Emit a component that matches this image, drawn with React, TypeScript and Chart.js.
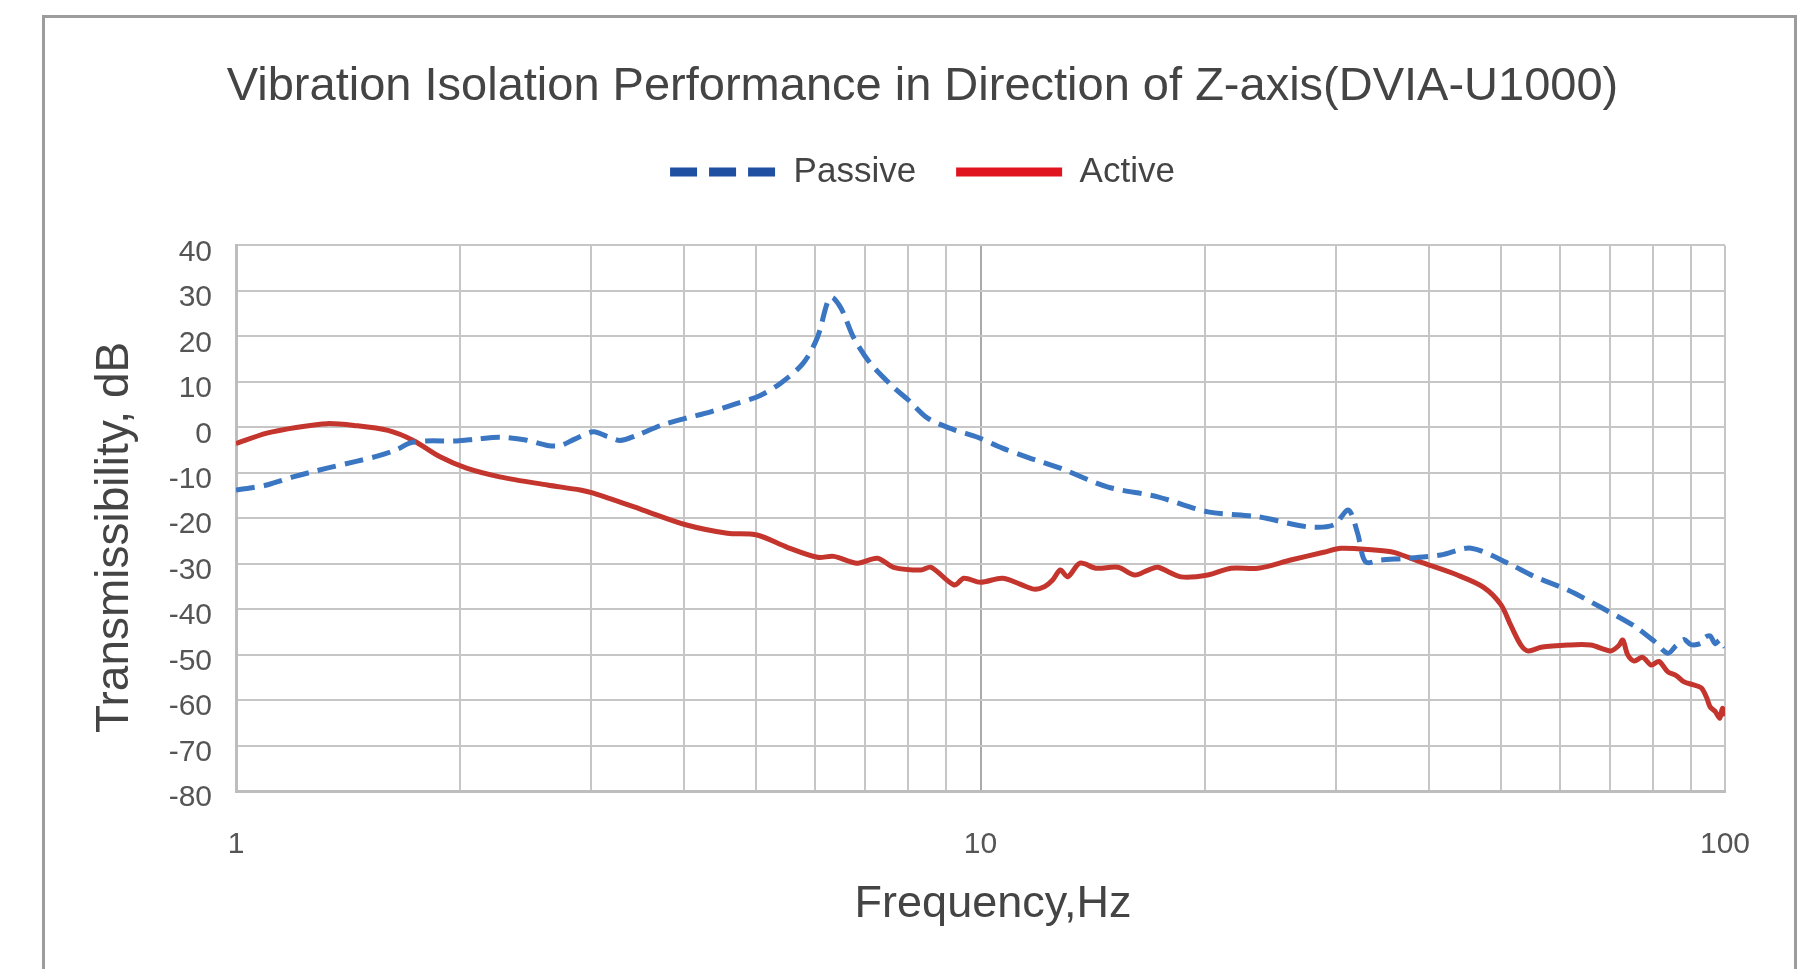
import React, { useEffect, useRef } from "react";
import { Chart, registerables } from "chart.js";

Chart.register(...registerables);

const TITLE = "Vibration Isolation Performance in Direction of Z-axis(DVIA-U1000)";
const X_TITLE = "Frequency,Hz";
const Y_TITLE = "Transmissibility, dB";
const SERIES_NAMES = ["Passive", "Active"];

const X_GRID_VALUES = [1, 2, 3, 4, 5, 6, 7, 8, 9, 10, 20, 30, 40, 50, 60, 70, 80, 90, 100];
const X_LABELED = [1, 10, 100];

const passiveFreq = [
  1.0, 1.05, 1.1, 1.2, 1.325, 1.45, 1.56, 1.65, 1.71, 1.8, 1.98, 2.1, 2.26, 2.45, 2.62, 2.73,
  2.85, 3.02, 3.15, 3.28, 3.45, 3.72, 4.0, 4.34, 4.7, 5.06, 5.39, 5.78, 6.04, 6.23, 6.32, 6.45,
  6.55, 6.75, 7.11, 7.64, 8.0, 8.49, 9.2, 9.91, 10.7, 11.57, 12.8, 14.8, 17.3, 20.2, 23.6, 27.5,
  29.8, 31.2, 32.1, 32.9, 34.5, 37.5, 41.5, 45.6, 51.1, 55.4, 61.5, 68.1, 75.5, 80.4, 83.8, 86.0,
  88.1, 90.0, 92.9, 94.0, 95.5, 97.0, 98.5, 100,
];
const passiveDb = [
  -13.8, -13.3, -12.7, -10.8, -9.0, -7.5, -6.2, -4.8, -3.5, -3.0, -3.0, -2.6, -2.2, -2.8, -4.0, -4.0,
  -2.6, -1.0, -2.0, -2.9, -1.8, 0.4, 1.9, 3.4, 5.2, 7.0, 9.7, 14.1, 19.8, 27.5, 28.6, 27.0,
  25.0, 19.8, 14.1, 8.8, 6.0, 2.0, -0.5, -2.2, -4.6, -6.6, -9.0, -13.1, -15.3, -18.6, -19.7, -21.9,
  -21.5, -18.2, -23.3, -29.6, -29.2, -28.8, -28.1, -26.6, -29.9, -32.8, -35.8, -39.6, -43.7, -47.1, -49.7, -48.0,
  -46.7, -47.8, -47.5, -46.2, -45.9, -47.6, -46.8, -48.4,
];

const activeFreq = [
  1.0, 1.1, 1.21, 1.325, 1.44, 1.6, 1.73, 1.88, 2.04, 2.26, 2.62, 2.9, 3.02, 3.52, 4.03, 4.57,
  5.01, 5.5, 6.04, 6.35, 6.83, 7.27, 7.64, 8.32, 8.58, 9.22, 9.5, 10.0, 10.7, 11.3, 11.8, 12.2,
  12.5, 12.8, 13.1, 13.6, 14.3, 15.3, 16.1, 16.8, 17.3, 18.6, 20.2, 21.7, 23.6, 26.1, 28.9, 30.5,
  33.8, 35.9, 39.4, 43.7, 47.4, 50.0, 51.6, 53.2, 54.4, 56.6, 61.5, 66.0, 70.2, 72.0, 72.9, 74.0,
  75.5, 77.5, 79.6, 81.5, 83.8, 86.0, 88.1, 90.5, 92.9, 94.5, 95.5, 97.0, 98.4, 99.2, 100,
];
const activeDb = [
  -3.6, -1.3, 0.0, 0.8, 0.4, -0.7, -2.9, -6.5, -9.0, -10.9, -12.7, -13.8, -14.5, -18.2, -21.5, -23.3,
  -23.7, -26.4, -28.6, -28.4, -29.9, -28.8, -30.8, -31.4, -30.8, -34.7, -33.2, -34.1, -33.2, -34.5, -35.6, -35.0,
  -33.6, -31.4, -32.9, -29.9, -31.0, -30.8, -32.5, -31.4, -30.8, -32.9, -32.5, -31.0, -31.0, -29.2, -27.5, -26.6,
  -27.0, -27.5, -29.9, -32.5, -35.2, -39.0, -43.7, -47.9, -49.2, -48.4, -47.9, -47.9, -49.2, -48.0, -46.8, -50.0,
  -51.4, -50.6, -52.3, -51.5, -53.8, -54.6, -56.0, -56.6, -57.3, -59.5, -61.5, -62.5, -64.0, -61.8, -63.5,
];

const LINE_COLORS = ["#3a76c2", "#c4352e"];
const LEGEND_COLORS = ["#1f4fa0", "#e0141f"];

const FONT = "'Liberation Sans', Arial, sans-serif";

export default function App() {
  const ref = useRef<HTMLCanvasElement>(null);

  useEffect(() => {
    const canvas = ref.current;
    if (!canvas) return;
    const chart = new Chart(canvas, {
      type: "line",
      data: {
        datasets: [
          {
            label: SERIES_NAMES[0],
            data: passiveFreq.map((f, i) => ({ x: f, y: passiveDb[i] })),
            borderColor: LINE_COLORS[0],
            backgroundColor: LINE_COLORS[0],
            borderWidth: 5,
            borderDash: [19, 9],
            pointRadius: 0,
            tension: 0.3,
            fill: false,
          },
          {
            label: SERIES_NAMES[1],
            data: activeFreq.map((f, i) => ({ x: f, y: activeDb[i] })),
            borderColor: LINE_COLORS[1],
            backgroundColor: LINE_COLORS[1],
            borderWidth: 5,
            pointRadius: 0,
            tension: 0.3,
            fill: false,
          },
        ],
      },
      options: {
        animation: false,
        responsive: false,
        maintainAspectRatio: false,
        layout: { padding: { left: 120, right: 93, top: 0, bottom: 0 } },
        plugins: {
          title: {
            display: true,
            text: TITLE,
            color: "#444",
            font: { family: FONT, size: 47, weight: "normal" },
            padding: { top: 59, bottom: -1 },
          },
          subtitle: {
            display: true,
            text: "",
            weight: 500,
            font: { size: 10 },
            padding: { top: 0, bottom: 34 },
          },
          legend: {
            display: true,
            position: "top",
            labels: {
              usePointStyle: true,
              pointStyleWidth: 106,
              padding: 40,
              color: "#444",
              font: { family: FONT, size: 35 },
              generateLabels: (c: any) => {
                const base = (Chart.defaults.plugins.legend.labels as any).generateLabels(c);
                return base.map((l: any, i: number) => ({
                  ...l,
                  pointStyle: "line",
                  lineWidth: 9,
                  strokeStyle: LEGEND_COLORS[i],
                  fillStyle: LEGEND_COLORS[i],
                  lineDash: i === 0 ? [27, 12] : [],
                  lineCap: "butt",
                }));
              },
            },
          },
          tooltip: { enabled: false },
        },
        scales: {
          x: {
            type: "logarithmic",
            min: 1,
            max: 100,
            afterBuildTicks: (s: any) => {
              s.ticks = X_GRID_VALUES.map((v) => ({ value: v, major: false }));
            },
            afterFit: (s: any) => {
              s.height = 178;
            },
            ticks: {
              autoSkip: false,
              maxRotation: 0,
              padding: 36,
              color: "#555",
              font: { family: FONT, size: 30 },
              callback: (v: any) => (X_LABELED.includes(Number(v)) ? String(v) : ""),
            },
            grid: {
              color: (ctx: any) => (ctx.tick && ctx.tick.value === 10 ? "#a9a9a9" : "#c6c6c6"),
              lineWidth: 2,
              drawTicks: false,
            },
            border: { display: true, color: "#bdbdbd", width: 3 },
            title: {
              display: true,
              text: "  " + X_TITLE,
              color: "#444",
              font: { family: FONT, size: 45 },
              padding: { top: 0, bottom: 37 },
            },
          },
          y: {
            type: "linear",
            min: -80,
            max: 40,
            afterFit: (s: any) => {
              s.width = 116;
            },
            ticks: {
              stepSize: 10,
              padding: 24,
              labelOffset: 7,
              color: "#555",
              font: { family: FONT, size: 30 },
            },
            grid: { color: "#c6c6c6", lineWidth: 2, drawTicks: false },
            border: { display: true, color: "#bdbdbd", width: 3 },
            title: {
              display: true,
              text: Y_TITLE + "   ",
              color: "#444",
              font: { family: FONT, size: 46 },
              padding: { top: -32, bottom: 0 },
            },
          },
        },
      },
    } as any);
    return () => chart.destroy();
  }, []);

  return (
    <div style={{ position: "fixed", left: 0, top: 0, width: 1818, height: 969, background: "#fff", overflow: "hidden" }}>
      <div
        style={{
          position: "absolute",
          left: 42,
          top: 15,
          width: 1755,
          height: 1100,
          border: "3px solid #9c9c9c",
          boxSizing: "border-box",
        }}
      />
      <canvas ref={ref} width={1818} height={969} style={{ position: "absolute", left: 0, top: 0 }} />
    </div>
  );
}
